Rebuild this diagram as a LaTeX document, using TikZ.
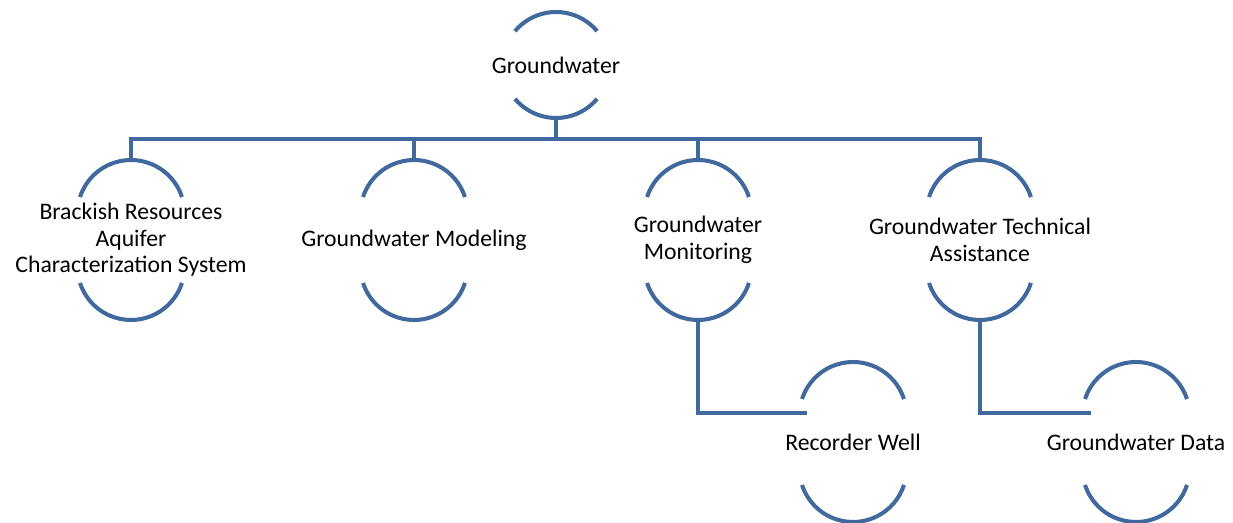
\documentclass[tikz,border=0pt]{standalone}
\usepackage{fontspec}
\setmainfont{Carlito}
\usetikzlibrary{calc}

\definecolor{rimblue}{HTML}{41699E}
\newcommand{\topicfont}{\fontsize{13.5}{15.1}\selectfont}

% two arcs of radius 53.6 round a node: #1 node, #2 half height, #3 arc end angle
\newcommand{\rimpair}[3]{%
  \draw[rim] ($(#1.center)+(0,#2-53.6)$) ++(#3:1.072cm) arc[start angle=#3, end angle=180-#3, radius=1.072cm];
  \draw[rim] ($(#1.center)-(0,#2-53.6)$) ++(-#3:1.072cm) arc[start angle=-#3, end angle=-180+#3, radius=1.072cm];
}

\begin{document}
\begin{tikzpicture}[x=0.02cm, y=0.02cm,
    rim/.style={draw=rimblue, line width=2.3pt},
    link/.style={draw=rimblue, line width=2.3pt},
    topic/.style={minimum width=2.08cm, minimum height=3.2cm, inner sep=0pt, align=center, font=\topicfont}]
    \useasboundingbox (0,0) rectangle (1233,523);

    % Define the nodes
    \node[topic, minimum height=2.12cm] (Groundwater) at (556,458) {Groundwater};
    \node[topic] (Brackish) at (131,283) {Brackish Resources\\Aquifer\\Characterization System};
    \node[topic] (Modeling) at (414,283) {Groundwater Modeling};
    \node[topic] (Monitoring) at (698,283) {Groundwater\\Monitoring};
    \node[topic] (Assistance) at (980,283) {Groundwater Technical\\Assistance};
    \node[topic] (Recorder) at (853,81) {Recorder Well};
    \node[topic] (Data) at (1136,81) {Groundwater Data};

    % Draw the arcs round each node
    \rimpair{Groundwater}{53}{40}
    \foreach \n in {Brackish, Modeling, Monitoring, Assistance, Recorder, Data} {
        \rimpair{\n}{80}{18}
    }

    % Connect the nodes
    \coordinate (Bus) at ($(Groundwater.south)+(0,-21)$);
    \draw[link] (Groundwater.south) -- (Bus);
    \foreach \n in {Brackish, Modeling, Monitoring, Assistance}
        \draw[link] (Bus) -| (\n.north);
    \draw[link] (Monitoring.south) |- ($(Recorder.center)+(-46,29)$);
    \draw[link] (Assistance.south) |- ($(Data.center)+(-45,29)$);
\end{tikzpicture}
\end{document}
